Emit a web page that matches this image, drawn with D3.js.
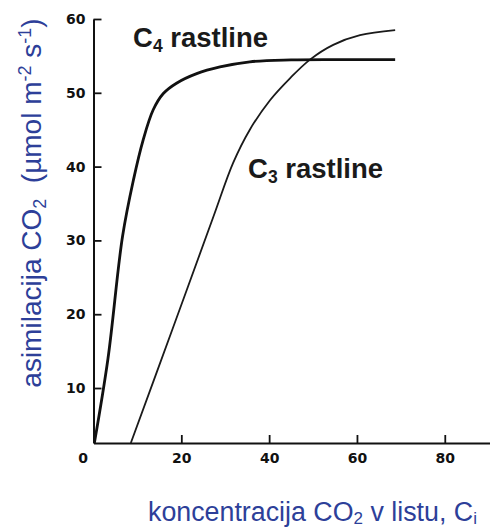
<!DOCTYPE html>
<html>
<head>
<meta charset="utf-8">
<script src="https://cdn.jsdelivr.net/npm/d3@7"></script>
<style>
  html, body { margin: 0; padding: 0; background: #fff; }
  svg { display: block; }
</style>
</head>
<body>
<script>
// ---- data ----
const xTicks = [0, 20, 40, 60, 80];
const yTicks = [10, 20, 30, 40, 50, 60];
const c4X = [0.2, 3.3, 6.6, 9.1, 11.3, 13.6, 15.9, 18.9, 23.5, 28.8, 35.6, 45, 55, 68.7];
const c4Y = [2.55, 14, 30.5, 38.2, 43.6, 47.7, 49.9, 51.3, 52.6, 53.5, 54.2, 54.45, 54.5, 54.5];
const c3X = [8.5, 18, 27.3, 31.8, 35.6, 40.2, 44.8, 49.3, 54.6, 60.7, 68.7];
const c3Y = [2.55, 18.0, 33.2, 40.5, 45, 49, 52, 54.5, 56.5, 57.8, 58.5];
const seriesSubs = ["4", "3"];

const W = 490, H = 528;
const blue = "#2d3f99";
const sans = "Liberation Sans, Arial, sans-serif";

const svg = d3.select("body").append("svg").attr("width", W).attr("height", H);
svg.append("rect").attr("width", W).attr("height", H).attr("fill", "#fff");

const x = d3.scaleLinear().domain([0, 90.3]).range([93.5, 490]);
const y = d3.scaleLinear().domain([2.55, 60]).range([443, 19]);

// axes
const xAxis = d3.axisBottom(x).tickValues(xTicks).tickSizeInner(-8).tickSizeOuter(0).tickPadding(10).tickFormat(d3.format("d"));
const yAxis = d3.axisLeft(y).tickValues(yTicks).tickSizeInner(-8).tickSizeOuter(0).tickPadding(8).tickFormat(d3.format("d"));

const gx = svg.append("g").attr("transform", `translate(0,${y.range()[0]})`).call(xAxis);
const gy = svg.append("g").attr("transform", `translate(${x(0)},0)`).call(yAxis);

[gx, gy].forEach(g => {
  g.select(".domain").attr("stroke", "#111").attr("stroke-width", 2);
  g.selectAll(".tick line").attr("stroke", "#111").attr("stroke-width", 1.8);
  g.selectAll(".tick text")
    .attr("fill", "#111")
    .attr("font-family", "DejaVu Sans, sans-serif")
    .attr("font-weight", "bold")
    .attr("font-size", 14);
});
gx.selectAll(".tick").filter(d => d === 0).select("line").remove();
gx.selectAll(".tick").filter(d => d === 0).select("text").attr("x", -11);

// curves
const line = d3.line().x(d => x(d[0])).y(d => y(d[1])).curve(d3.curveCatmullRom.alpha(0.5));
const c4 = c4X.map((v, i) => [v, c4Y[i]]);
const c3 = c3X.map((v, i) => [v, c3Y[i]]);

svg.append("path").datum(c3).attr("d", line)
  .attr("fill", "none").attr("stroke", "#1a1a1a").attr("stroke-width", 1.8);
svg.append("path").datum(c4).attr("d", line)
  .attr("fill", "none").attr("stroke", "#111").attr("stroke-width", 2.8);

// series labels
function seriesLabel(px, py, sub) {
  const t = svg.append("text").attr("x", px).attr("y", py)
    .attr("font-family", sans)
    .attr("font-weight", "bold").attr("font-size", 27.5).attr("fill", "#1a1a1a");
  t.append("tspan").text("C");
  t.append("tspan").attr("font-size", 17.5).attr("dy", 5).text(sub);
  t.append("tspan").attr("dy", -5).text(" rastline");
}
seriesLabel(133, 47, seriesSubs[0]);
seriesLabel(248, 178, seriesSubs[1]);

// axis titles
const yt = svg.append("text")
  .attr("transform", `translate(41,203) rotate(-90)`)
  .attr("text-anchor", "middle")
  .attr("font-family", sans)
  .attr("font-size", 28).attr("fill", blue);
yt.append("tspan").text("asimilacija CO");
yt.append("tspan").attr("font-size", 18).attr("dy", 5).text("2");
yt.append("tspan").attr("dy", -5).text("\u00a0 (µmol m");
yt.append("tspan").attr("font-size", 18).attr("dy", -10).text("-2");
yt.append("tspan").attr("dy", 10).text(" s");
yt.append("tspan").attr("font-size", 18).attr("dy", -10).text("-1");
yt.append("tspan").attr("dy", 10).text(")");

const xt = svg.append("text")
  .attr("x", 148).attr("y", 521)
  .attr("font-family", sans)
  .attr("font-size", 26.8).attr("fill", blue);
xt.append("tspan").text("koncentracija CO");
xt.append("tspan").attr("font-size", 17).attr("dy", 3).text("2");
xt.append("tspan").attr("dy", -3).text(" v listu, C");
xt.append("tspan").attr("font-size", 17).attr("dy", 3).text("i");
</script>
</body>
</html>
